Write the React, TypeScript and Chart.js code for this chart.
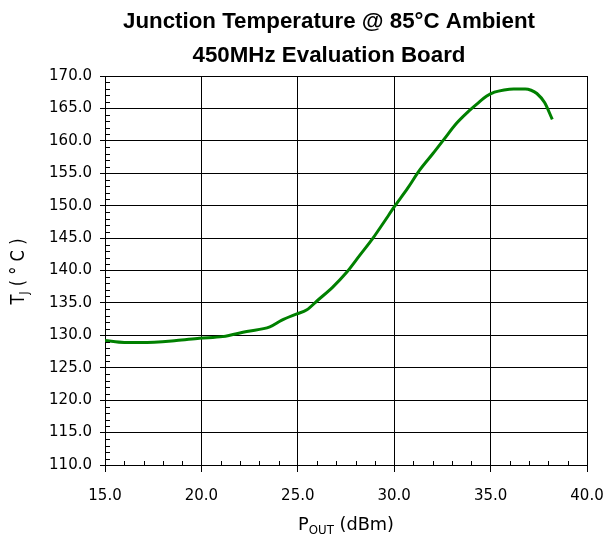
import { useEffect, useRef } from "react";
import { Chart, registerables } from "chart.js";

Chart.register(...registerables);

// Output power (dBm) and junction temperature (°C) samples
const pOut = [
  15.0, 16.0, 16.9, 18.7, 19.9, 21.1, 22.35, 23.55, 24.15, 24.95, 25.45, 26.05,
  26.8, 27.5, 28.2, 28.9, 29.5, 30.0, 30.7, 31.3, 32.0, 32.6, 33.2, 33.8, 34.3,
  34.8, 35.2, 35.7, 36.2, 36.8, 37.1, 37.4, 37.8, 38.2,
];
const tj = [
  129.2, 128.9, 128.9, 129.2, 129.55, 129.8, 130.6, 131.3, 132.3, 133.3, 133.9,
  135.45, 137.4, 139.6, 142.3, 145.0, 147.6, 149.8, 152.7, 155.4, 158.0, 160.3,
  162.6, 164.4, 165.7, 166.9, 167.5, 167.85, 168.0, 168.0, 167.8, 167.3, 165.9,
  163.3,
];

const xRange = [15, 40];
const yRange = [110, 170];
const majorStep = 5;
const minorStep = 1;

const titleLines = ["Junction Temperature @ 85°C Ambient", "450MHz Evaluation Board"];
const xTitle = [
  { text: "P", sub: false },
  { text: "OUT", sub: true },
  { text: " (dBm)", sub: false },
];
const yTitle = [
  { text: "T", sub: false },
  { text: "J", sub: true },
  { text: " ( ° C )", sub: false },
];

const TICK_FONT = "DejaVu Sans";
const TITLE_FONT = "'Liberation Sans Narrow', 'Liberation Sans', sans-serif";

type Seg = { text: string; sub: boolean };

// Draw text horizontally scaled to a given total width, centred on cx
function drawFitted(
  ctx: CanvasRenderingContext2D,
  text: string,
  cx: number,
  baseline: number,
  font: string,
  width: number
) {
  ctx.save();
  ctx.font = font;
  const w = ctx.measureText(text).width;
  const s = width / w;
  ctx.translate(cx, baseline);
  ctx.scale(s, 1);
  ctx.textAlign = "center";
  ctx.textBaseline = "alphabetic";
  ctx.fillStyle = "#000";
  ctx.fillText(text, 0, 0);
  ctx.restore();
}

// Draw a run of text with subscripts, centred at origin on the baseline
function drawRich(
  ctx: CanvasRenderingContext2D,
  segs: Seg[],
  size: number,
  family: string,
  width: number
) {
  const fontFor = (sub: boolean) => `${sub ? Math.round(size * 0.65) : size}px ${family}`;
  let total = 0;
  const widths = segs.map((s) => {
    ctx.font = fontFor(s.sub);
    const w = ctx.measureText(s.text).width;
    total += w;
    return w;
  });
  const k = width / total;
  ctx.save();
  ctx.scale(k, 1);
  let x = -total / 2;
  ctx.textAlign = "left";
  ctx.textBaseline = "alphabetic";
  ctx.fillStyle = "#000";
  segs.forEach((s, i) => {
    ctx.font = fontFor(s.sub);
    ctx.fillText(s.text, x, s.sub ? size * 0.2 : 0);
    x += widths[i];
  });
  ctx.restore();
}

const decorations = {
  id: "decorations",
  afterDraw(chart: any) {
    const ctx: CanvasRenderingContext2D = chart.ctx;
    const xs = chart.scales.x;
    const ys = chart.scales.y;

    // minor tick marks pointing into the plot
    ctx.save();
    ctx.strokeStyle = "#000";
    ctx.lineWidth = 1;
    ctx.beginPath();
    for (let v = xRange[0] + minorStep; v < xRange[1]; v += minorStep) {
      if (v % majorStep === 0) continue;
      const px = Math.round(xs.getPixelForValue(v)) + 0.5;
      ctx.moveTo(px, ys.bottom);
      ctx.lineTo(px, ys.bottom - 4);
    }
    for (let v = yRange[0] + minorStep; v < yRange[1]; v += minorStep) {
      if (v % majorStep === 0) continue;
      const py = Math.round(ys.getPixelForValue(v)) + 0.5;
      ctx.moveTo(xs.left, py);
      ctx.lineTo(xs.left + 5, py);
    }
    ctx.stroke();
    ctx.restore();

    // two-line heading
    drawFitted(ctx, titleLines[0], 329, 28, `bold 22px ${TITLE_FONT}`, 412);
    drawFitted(ctx, titleLines[1], 329, 62, `bold 22px ${TITLE_FONT}`, 273);

    // x axis title
    ctx.save();
    ctx.translate((xs.left + xs.right) / 2, 530);
    drawRich(ctx, xTitle as Seg[], 18, TICK_FONT, 96);
    ctx.restore();

    // y axis title
    ctx.save();
    ctx.translate(24, 271.5);
    ctx.rotate(-Math.PI / 2);
    drawRich(ctx, yTitle as Seg[], 19, TICK_FONT, 66);
    ctx.restore();
  },
};

// keep the plot box fixed: no extra room reserved for edge labels
function fixBox(size: { width?: number; height?: number }) {
  return (s: any) => {
    if (size.width !== undefined) s.width = size.width;
    if (size.height !== undefined) s.height = size.height;
    s.paddingLeft = 0;
    s.paddingRight = 0;
    s.paddingTop = 0;
    s.paddingBottom = 0;
  };
}

export default function App() {
  const ref = useRef<HTMLCanvasElement>(null);

  useEffect(() => {
    if (!ref.current) return;
    const chart = new Chart(ref.current, {
      type: "line",
      data: {
        datasets: [
          {
            data: pOut.map((x, i) => ({ x, y: tj[i] })),
            borderColor: "#008000",
            borderWidth: 3,
            pointRadius: 0,
            cubicInterpolationMode: "monotone",
            fill: false,
          },
        ],
      },
      options: {
        animation: false,
        responsive: false,
        devicePixelRatio: 1,
        layout: { padding: { top: 76, right: 18, left: 0, bottom: 0 } },
        plugins: {
          legend: { display: false },
          title: { display: false },
          tooltip: { enabled: false },
        },
        scales: {
          x: {
            type: "linear",
            min: xRange[0],
            max: xRange[1],
            afterFit: fixBox({ height: 73 }),
            ticks: {
              stepSize: majorStep,
              color: "#000",
              font: { family: TICK_FONT, size: 15 },
              padding: 15,
              maxRotation: 0,
              callback: (v: any) => Number(v).toFixed(1),
            },
            grid: { color: "#000", lineWidth: 1, tickLength: 7 },
            border: { color: "#000", width: 1 },
          },
          y: {
            type: "linear",
            min: yRange[0],
            max: yRange[1],
            afterFit: fixBox({ width: 105 }),
            ticks: {
              stepSize: majorStep,
              color: "#000",
              font: { family: TICK_FONT, size: 15 },
              padding: 8,
              callback: (v: any) => Number(v).toFixed(1),
            },
            grid: { color: "#000", lineWidth: 1, tickLength: 5 },
            border: { color: "#000", width: 1 },
          },
        },
      },
      plugins: [decorations],
    });
    return () => chart.destroy();
  }, []);

  return (
    <div style={{ position: "fixed", left: 0, top: 0, width: 605, height: 538, background: "#fff" }}>
      <canvas ref={ref} width={605} height={538} />
    </div>
  );
}
